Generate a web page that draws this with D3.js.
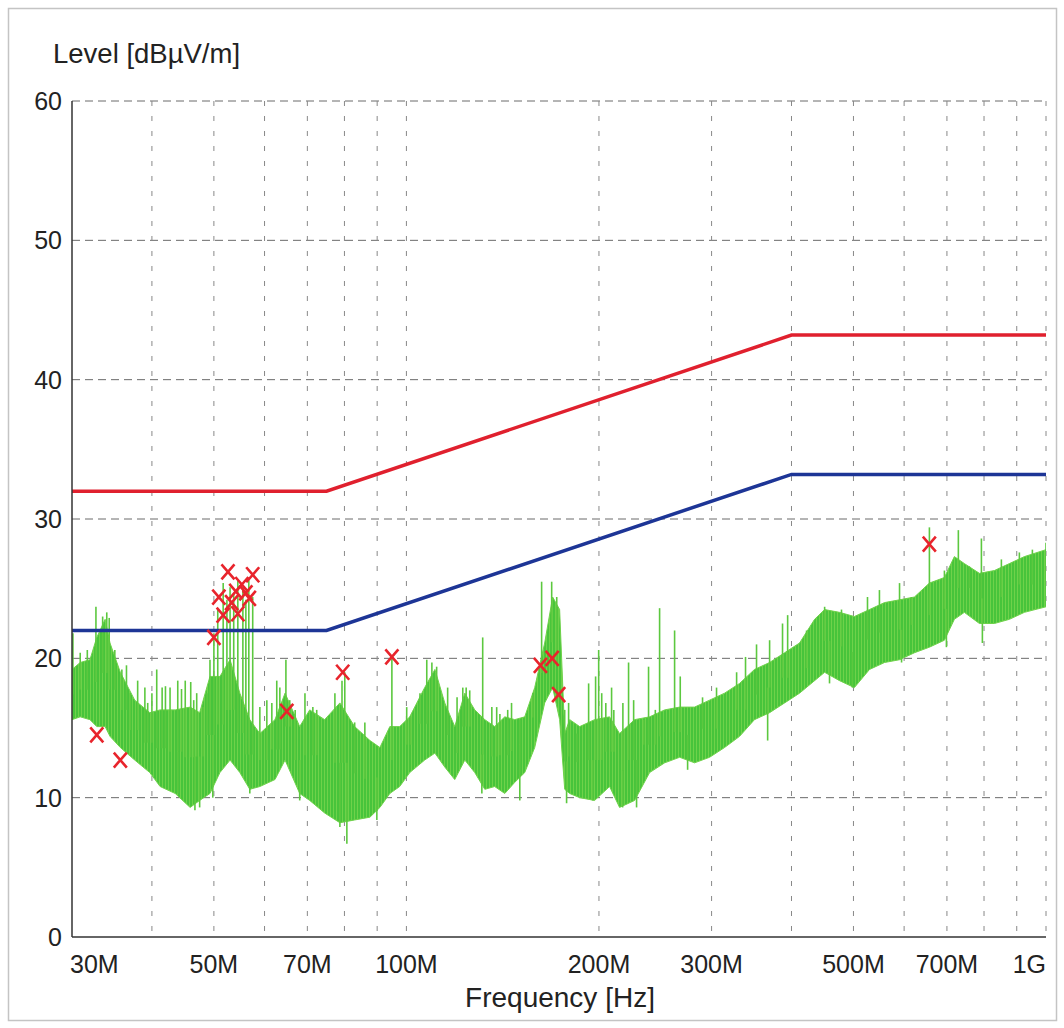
<!DOCTYPE html>
<html>
<head>
<meta charset="utf-8">
<script src="https://cdn.jsdelivr.net/npm/d3@7"></script>
<style>
  body { margin: 0; background: #fff; }
  text { font-family: "Liberation Sans", Arial, sans-serif; fill: #222; }
</style>
</head>
<body>
<div id="chart"></div>
<script>
// x ticks (MHz) and labels
const xTickVals = [30, 50, 70, 100, 200, 300, 500, 700, 1000];
const xTickLabels = ["30M", "50M", "70M", "100M", "200M", "300M", "500M", "700M", "1G"];
const xGridVals = [40, 50, 60, 70, 80, 90, 100, 200, 300, 400, 500, 600, 700, 800, 900, 1000];
const yTickVals = [0, 10, 20, 30, 40, 50, 60];

// limit lines (MHz, dBuV/m)
const limitFreq = [30, 75, 400, 1000];
const limitRed = [32, 32, 43.2, 43.2];
const limitBlue = [22, 22, 33.2, 33.2];

// scan envelope: frequency, upper edge, lower edge of the green band
const traceFreq = [30.0, 30.9, 32.0, 32.8, 33.8, 34.4, 35.7, 37.6, 39.7, 41.2, 43.5, 45.9, 47.5, 49.3, 51.1, 53.0,
  54.9, 56.9, 59.0, 62.3, 64.6, 68.1, 70.6, 74.5, 78.7, 83.0, 87.7, 90.9, 94.2, 97.6, 101.2, 106.8, 110.8, 114.8,
  119.0, 123.4, 127.9, 132.6, 137.4, 142.5, 147.7, 153.1, 158.7, 164.5, 169.3, 173.6, 176.8, 180.0, 186.6, 196.9,
  207.8, 215.4, 227.4, 240.0, 253.4, 267.4, 282.2, 297.9, 314.4, 331.8, 350.1, 369.7, 390.2, 411.8, 434.7, 450.7,
  475.5, 501.6, 529.7, 559.1, 590.2, 622.7, 657.2, 693.7, 719.0, 745.3, 786.8, 830.4, 876.6, 925.1, 1000];
const traceHigh = [19.2, 19.7, 19.9, 21.5, 22.8, 21.1, 19.0, 17.0, 16.1, 16.3, 16.3, 16.5, 16.1, 18.7, 18.7, 19.9,
  17.5, 15.6, 14.6, 15.6, 17.5, 15.1, 16.3, 15.6, 16.8, 15.1, 14.1, 13.6, 15.1, 15.1, 15.8, 17.9, 19.2, 16.8,
  15.1, 17.5, 16.3, 15.6, 15.1, 15.8, 15.6, 15.8, 17.9, 21.1, 24.4, 23.5, 14.6, 15.6, 15.1, 15.6,
  15.8, 14.6, 15.6, 15.8, 16.3, 16.5, 16.5, 17.0, 17.5, 18.2, 19.2, 19.7, 20.4, 21.1, 22.8, 23.5,
  23.3, 23.0, 23.5, 24.0, 24.2, 24.4, 25.4, 25.8, 27.3, 26.8, 26.1, 26.3, 26.8, 27.3, 27.8];
const traceLow = [15.6, 15.8, 15.6, 15.1, 15.1, 14.4, 13.6, 12.7, 11.8, 10.8, 10.3, 9.3, 9.8, 10.3, 11.8, 12.7,
  11.8, 10.6, 10.8, 11.3, 12.7, 10.3, 9.8, 8.9, 8.2, 8.4, 8.6, 9.3, 10.3, 10.8, 11.8, 12.7, 13.2, 12.2,
  11.3, 12.7, 11.8, 10.6, 10.8, 10.3, 11.1, 11.8, 13.6, 16.8, 17.9, 15.6, 10.6, 10.3, 10.0, 9.8,
  10.8, 9.3, 9.8, 11.8, 12.5, 12.9, 12.5, 12.9, 13.6, 14.4, 15.6, 16.1, 16.8, 17.5, 18.4, 19.0,
  18.4, 17.9, 19.2, 19.7, 19.9, 20.4, 20.8, 21.3, 22.8, 23.3, 22.5, 22.5, 22.8, 23.3, 23.7];

// narrow peaks sticking out above the band
const spikeFreq = [30.1, 30.9, 31.7, 32.7, 33.5, 34.0, 34.3, 35.0, 35.9, 36.5, 37.0, 38.0, 39.0, 39.4, 40.0, 40.7,
  41.5, 42.0, 42.7, 43.9, 44.5, 45.1, 46.0, 46.5, 47.0, 48.1, 48.8, 49.3, 50.0, 50.7, 51.7, 52.4, 53.0, 53.7,
  54.5, 55.5, 56.1, 56.7, 57.5, 59.0, 60.5, 61.6, 62.7, 63.4, 64.8, 65.7, 67.0, 69.4, 71.4, 72.4, 77.3, 79.3,
  80.1, 83.0, 86.1, 94.9, 100.1, 101.5, 105.0, 107.6, 109.6, 111.5, 116.0, 120.0, 122.5, 124.0, 125.6, 131.6,
  136.0, 138.4, 140.0, 144.0, 146.0, 150.4, 157.6, 162.7, 168.7, 171.8, 176.8, 179.3, 184.6, 192.7, 197.6,
  199.8, 202.0, 205.0, 209.3, 211.0, 218.0, 222.5, 226.6, 235.0, 239.1, 245.0, 248.8, 262.6, 268.0, 290.4,
  305.4, 328.3, 339.0, 352.7, 369.7, 387.3, 394.5, 422.3, 450.7, 478.9, 525.9, 549.0, 590.2, 616.1, 657.2,
  693.7, 729.4, 758.9, 792.5, 851.6, 908.6, 952.2, 1000];
const spikeLevel = [21.8, 20.4, 20.6, 23.7, 23.0, 23.3, 22.9, 20.6, 19.2, 19.5, 17.5, 18.4, 17.9, 16.8, 17.5, 19.2,
  17.9, 18.0, 17.9, 18.4, 17.8, 18.4, 18.3, 17.0, 17.5, 16.5, 17.5, 19.9, 21.8, 23.5, 25.4, 24.2, 25.1, 24.7,
  25.6, 25.1, 24.2, 25.6, 24.4, 16.5, 17.0, 16.8, 18.4, 17.9, 19.9, 17.0, 16.3, 17.5, 16.5, 16.3, 17.5, 18.4,
  19.0, 15.4, 15.4, 20.1, 16.5, 15.8, 17.5, 19.9, 19.7, 19.4, 17.9, 17.2, 17.9, 17.9, 17.7, 21.5,
  16.5, 16.5, 16.0, 16.3, 16.8, 15.6, 17.5, 25.5, 25.5, 24.4, 16.3, 16.8, 14.6, 18.2, 18.7,
  20.6, 17.5, 16.8, 17.9, 16.3, 16.8, 19.7, 17.0, 15.6, 19.4, 16.3, 23.6, 22.0, 18.7, 17.2,
  17.9, 19.0, 20.1, 21.0, 21.3, 22.5, 23.1, 22.0, 23.7, 23.5, 24.4, 24.9, 25.4, 24.4, 29.4,
  26.3, 29.2, 26.6, 28.6, 27.1, 27.6, 27.8, 28.3];

// narrow dips below the band
const dipFreq = [43.9, 46.7, 47.5, 49.8, 56.9, 68.1, 78.7, 80.7, 89.9, 131.2, 150.4, 178.0, 195.5, 217.8, 229.0,
  275.2, 367.1, 458.7, 498.1, 594.5, 698.7, 795.3];
const dipLevel = [10.3, 9.1, 9.3, 10.0, 10.3, 9.8, 7.9, 6.7, 8.4, 10.3, 9.8, 9.6, 9.8, 9.3, 9.3,
  12.0, 14.1, 18.2, 17.9, 19.7, 20.8, 21.1];

// final measurement markers
const markFreq = [32.8, 35.7, 50.0, 50.9, 52.6, 51.7, 53.3, 54.5, 54.1, 55.3, 56.1, 56.8, 57.5, 65.0, 79.5, 94.9,
  162, 169, 173, 657];
const markLevel = [14.5, 12.7, 21.5, 24.4, 26.2, 23.1, 24.0, 23.2, 24.8, 25.3, 24.7, 24.3, 26.0, 16.2, 19.0, 20.1,
  19.5, 20.0, 17.4, 28.2];

const W = 1064, H = 1028;
const margin = {top: 101, right: 18, bottom: 91, left: 72};
const width = W - margin.left - margin.right,
      height = H - margin.top - margin.bottom;

const svg = d3.select("#chart").append("svg")
  .attr("width", W).attr("height", H);

// striped fill so the band reads as a dense sweep of vertical strokes
const defs = svg.append("defs");
const pat = defs.append("pattern").attr("id", "sweep")
  .attr("patternUnits", "userSpaceOnUse").attr("width", 3).attr("height", 10);
pat.append("rect").attr("width", 3).attr("height", 10).attr("fill", "#47c43b");
pat.append("rect").attr("width", 1).attr("height", 10).attr("fill", "#6fd24a");

// light frame round the whole plot
svg.append("rect")
  .attr("x", 8.5).attr("y", 8.5).attr("width", 1048).attr("height", 1012)
  .attr("fill", "none").attr("stroke", "#c4c4c4").attr("stroke-width", 1.5);

const g = svg.append("g").attr("transform", `translate(${margin.left},${margin.top})`);

const x = d3.scaleLog().domain([30, 1000]).range([0, width]);
const y = d3.scaleLinear().domain([0, 60]).range([height, 0]);

// grid
g.selectAll(".hgrid").data(yTickVals.filter(d => d > 0)).join("line")
  .attr("x1", 0).attr("x2", width)
  .attr("y1", d => y(d)).attr("y2", d => y(d))
  .attr("stroke", "#6a6a6a").attr("stroke-width", 1).attr("stroke-dasharray", "8,5");
g.selectAll(".vgrid").data(xGridVals).join("line")
  .attr("x1", d => x(d)).attr("x2", d => x(d))
  .attr("y1", 0).attr("y2", height)
  .attr("stroke", "#888").attr("stroke-width", 1).attr("stroke-dasharray", "5,10");

// scan trace
g.append("clipPath").attr("id", "plotclip")
  .append("rect").attr("width", width).attr("height", height);
const trace = g.append("g").attr("clip-path", "url(#plotclip)");

const band = traceFreq.map((f, i) => ({f, hi: traceHigh[i], lo: traceLow[i]}));
const nearest = f => band.reduce((a, b) => Math.abs(Math.log(b.f / f)) < Math.abs(Math.log(a.f / f)) ? b : a);

trace.append("path")
  .datum(band)
  .attr("fill", "url(#sweep)")
  .attr("stroke", "#6fd24a")
  .attr("stroke-width", 1)
  .attr("d", d3.area().x(d => x(d.f)).y0(d => y(d.lo)).y1(d => y(d.hi)));

trace.selectAll(".spike").data(spikeFreq.map((f, i) => ({f, v: spikeLevel[i]}))).join("line")
  .attr("x1", d => x(d.f)).attr("x2", d => x(d.f))
  .attr("y1", d => y(d.v)).attr("y2", d => y((nearest(d.f).hi + nearest(d.f).lo) / 2))
  .attr("stroke", "#5cc83f").attr("stroke-width", 1.6);

trace.selectAll(".dip").data(dipFreq.map((f, i) => ({f, v: dipLevel[i]}))).join("line")
  .attr("x1", d => x(d.f)).attr("x2", d => x(d.f))
  .attr("y1", d => y(d.v)).attr("y2", d => y((nearest(d.f).hi + nearest(d.f).lo) / 2))
  .attr("stroke", "#5cc83f").attr("stroke-width", 1.6);

// limit lines
const limLine = d3.line().x(d => x(d[0])).y(d => y(d[1]));
g.append("path").datum(limitFreq.map((f, i) => [f, limitRed[i]]))
  .attr("fill", "none").attr("stroke", "#e0202e").attr("stroke-width", 3.5).attr("d", limLine);
g.append("path").datum(limitFreq.map((f, i) => [f, limitBlue[i]]))
  .attr("fill", "none").attr("stroke", "#1d3596").attr("stroke-width", 3.5).attr("d", limLine);

// markers
const s = 6.5;
const marks = g.selectAll(".mark").data(markFreq.map((f, i) => ({f, v: markLevel[i]}))).join("g")
  .attr("transform", d => `translate(${x(d.f)},${y(d.v)})`);
marks.append("path")
  .attr("d", `M${-s},${-s - 1}L${s},${s + 1}M${-s},${s + 1}L${s},${-s - 1}`)
  .attr("stroke", "#e8242c").attr("stroke-width", 2.6).attr("fill", "none");

// axes lines
g.append("line").attr("x1", 0).attr("x2", 0).attr("y1", 0).attr("y2", height)
  .attr("stroke", "#333").attr("stroke-width", 1.5);
g.append("line").attr("x1", 0).attr("x2", width).attr("y1", height).attr("y2", height)
  .attr("stroke", "#333").attr("stroke-width", 1.5);

// tick labels
g.selectAll(".ylab").data(yTickVals).join("text")
  .attr("x", -10).attr("y", d => y(d)).attr("dy", "0.36em")
  .attr("text-anchor", "end").style("font-size", "25px")
  .text(d => d);

g.selectAll(".xlab").data(xTickVals).join("text")
  .attr("x", d => x(d)).attr("y", height + 36)
  .attr("text-anchor", (d, i) => i === 0 ? "start" : (i === xTickVals.length - 1 ? "end" : "middle"))
  .attr("dx", (d, i) => i === 0 ? -2 : 0)
  .style("font-size", "25px")
  .text((d, i) => xTickLabels[i]);

// axis titles
svg.append("text").attr("x", 53).attr("y", 63)
  .style("font-size", "27.5px").text("Level [dBµV/m]");
svg.append("text").attr("x", 560).attr("y", 1007).attr("text-anchor", "middle")
  .style("font-size", "28px").text("Frequency [Hz]");
</script>
</body>
</html>
